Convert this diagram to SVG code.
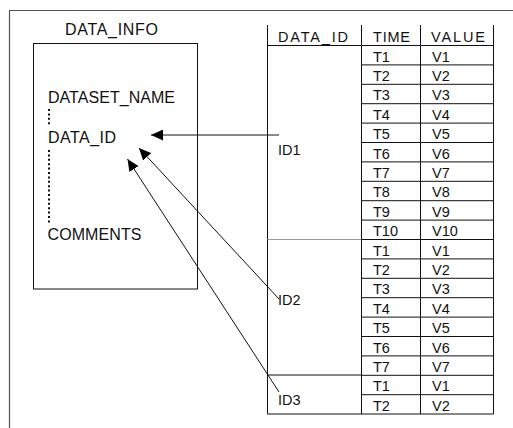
<svg xmlns="http://www.w3.org/2000/svg" width="513" height="428" viewBox="0 0 513 428">
<style>
text{font-family:"Liberation Sans",Arial,sans-serif;fill:#111}
.lbl{font-size:16px}
.cell{font-size:14.5px}
.ln{stroke:#111;stroke-width:1;fill:none}
.frame{stroke:#555;stroke-width:1.2;fill:none}
.dot{stroke:#111;stroke-width:2;stroke-dasharray:2 2.4;fill:none}
.conn{stroke:#111;stroke-width:1;fill:none;marker-end:url(#ah)}
</style>
<defs>
<marker id="ah" viewBox="0 0 12 11" refX="12" refY="5.5" markerWidth="12" markerHeight="11" markerUnits="userSpaceOnUse" orient="auto">
<path d="M0,0 L12,5.5 L0,11 Z" fill="#000"/>
</marker>
</defs>
<g id="frame">
<path class="frame" d="M513,10.5 H9.5 V428"/>
</g>
<g id="data_info">
<text class="lbl" x="65" y="35" textLength="93">DATA_INFO</text>
<rect class="ln" x="33.5" y="43.5" width="164" height="245.5"/>
<text class="lbl" x="48" y="102.5" textLength="127">DATASET_NAME</text>
<path class="dot" d="M49,109 V125"/>
<text class="lbl" x="48" y="142.5" textLength="68">DATA_ID</text>
<path class="dot" d="M49,150 V224"/>
<text class="lbl" x="47.5" y="240" textLength="94">COMMENTS</text>
</g>
<g id="table">
<path class="ln" d="M267.5,25 V414 M361.5,25 V414 M420.5,25 V414 M493.5,25 V414 M267.5,45.5 H493.5 M267.5,414 H493.5"/>
<path d="M267.5,239.5 H361.5" stroke="#999" stroke-width="1"/>
<path class="ln" d="M267.5,375 H361.5"/>
<path class="ln" d="M361.5,64.9 H493.5 M361.5,84.3 H493.5 M361.5,103.7 H493.5 M361.5,123.1 H493.5 M361.5,142.5 H493.5 M361.5,161.9 H493.5 M361.5,181.3 H493.5 M361.5,200.7 H493.5 M361.5,220.1 H493.5 M361.5,239.5 H493.5 M361.5,258.9 H493.5 M361.5,278.3 H493.5 M361.5,297.7 H493.5 M361.5,317.1 H493.5 M361.5,336.5 H493.5 M361.5,355.9 H493.5 M361.5,375.3 H493.5 M361.5,394.7 H493.5"/>
<text class="cell" x="278" y="42" textLength="70">DATA_ID</text>
<text class="cell" x="373" y="42" textLength="37">TIME</text>
<text class="cell" x="431" y="42" textLength="54">VALUE</text>
<text class="cell" x="278" y="155">ID1</text>
<text class="cell" x="278" y="305">ID2</text>
<text class="cell" x="278" y="405">ID3</text>
<g class="cell">
<text class="cell" x="373" y="61.5">T1</text><text class="cell" x="432" y="61.5">V1</text>
<text class="cell" x="373" y="80.9">T2</text><text class="cell" x="432" y="80.9">V2</text>
<text class="cell" x="373" y="100.3">T3</text><text class="cell" x="432" y="100.3">V3</text>
<text class="cell" x="373" y="119.7">T4</text><text class="cell" x="432" y="119.7">V4</text>
<text class="cell" x="373" y="139.1">T5</text><text class="cell" x="432" y="139.1">V5</text>
<text class="cell" x="373" y="158.5">T6</text><text class="cell" x="432" y="158.5">V6</text>
<text class="cell" x="373" y="177.9">T7</text><text class="cell" x="432" y="177.9">V7</text>
<text class="cell" x="373" y="197.3">T8</text><text class="cell" x="432" y="197.3">V8</text>
<text class="cell" x="373" y="216.7">T9</text><text class="cell" x="432" y="216.7">V9</text>
<text class="cell" x="373" y="236.1">T10</text><text class="cell" x="432" y="236.1">V10</text>
<text class="cell" x="373" y="255.5">T1</text><text class="cell" x="432" y="255.5">V1</text>
<text class="cell" x="373" y="274.9">T2</text><text class="cell" x="432" y="274.9">V2</text>
<text class="cell" x="373" y="294.3">T3</text><text class="cell" x="432" y="294.3">V3</text>
<text class="cell" x="373" y="313.7">T4</text><text class="cell" x="432" y="313.7">V4</text>
<text class="cell" x="373" y="333.1">T5</text><text class="cell" x="432" y="333.1">V5</text>
<text class="cell" x="373" y="352.5">T6</text><text class="cell" x="432" y="352.5">V6</text>
<text class="cell" x="373" y="371.9">T7</text><text class="cell" x="432" y="371.9">V7</text>
<text class="cell" x="373" y="391.3">T1</text><text class="cell" x="432" y="391.3">V1</text>
<text class="cell" x="373" y="410.7">T2</text><text class="cell" x="432" y="410.7">V2</text>
</g>
</g>
<g id="connectors">
<path class="conn" d="M279,135 L151,135"/>
<path class="conn" d="M279,299 L139,148"/>
<path class="conn" d="M279,392 L127.5,159"/>
</g>
</svg>
